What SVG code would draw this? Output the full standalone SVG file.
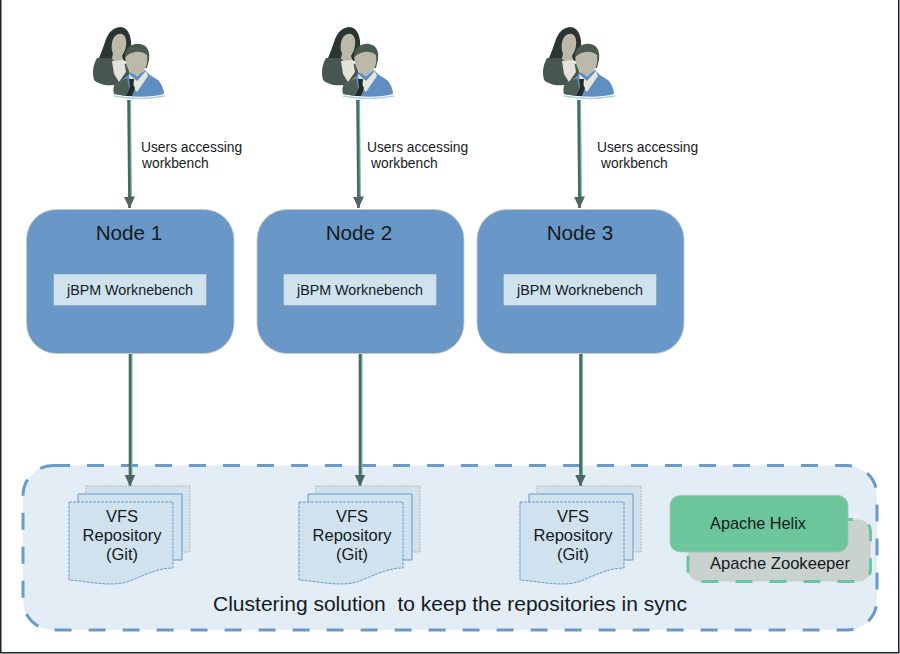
<svg xmlns="http://www.w3.org/2000/svg" xmlns:xlink="http://www.w3.org/1999/xlink" width="900" height="654" viewBox="0 0 900 654">
<style>
text{font-family:"Liberation Sans",Arial,sans-serif;fill:#151a1c}
.nd{fill:#6998c8;stroke:#c8ccc4;stroke-width:.8}
.nt{font-size:20.700px;text-anchor:middle}
.wb{fill:#cfe2ee;stroke:#d5dcd8;stroke-width:.6}
.wt{font-size:14.300px;text-anchor:middle}
.ul{font-size:13.800px}
.doc{fill:#cfe2ee}
.dt{font-size:16.500px;text-anchor:middle}
.c1{stroke:#5fc298;stroke-width:3;fill:none}
.c2{stroke:#4d6564;stroke-width:2.6;fill:none}
</style>
<defs>
<marker id="ah" markerUnits="userSpaceOnUse" markerWidth="13" markerHeight="13" refX="11.500" refY="6" orient="auto"><path d="M0 .5L12 6L0 11.500z" fill="#4d6564"/></marker>
<g id="users">
<path d="M105 42C108 32 114 27 121 27C129 28 132 38 131 48L129 60L114 64L99 58C101 53 103 48 105 42Z" fill="#2b3532"/>
<path d="M112 43C113 36 118 33 122 34C127 36 127 44 125 50L122 56L124 62L111 62L113 54C112 51 111 47 112 43Z" fill="#bdb9aa"/>
<path d="M97 58L111 58L116 62L127 64L130 74L116 86L113 85C106 86 98 84 94 80C92 72 93 65 97 58Z" fill="#47564f"/>
<path d="M112 61L124 60L126 72L119 82L114 74Z" fill="#e3e2db"/>
<path d="M125 58C124 48 132 43 140 44C148 45 150 52 149 60L147 68L127 66Z" fill="#4b5a4f"/>
<path d="M125.500 57C130 52 140 49 147 55C148 64 146 72 137 75.500C130 75 125 66 125.500 57Z" fill="#bcb9aa"/>
<path d="M116 84L126 78L130 72L137 76L145 70L150 75L158 80C162 84 164 90 164 94C150 98 128 97 114 94Z" fill="#5f8fc0"/>
<path d="M115 84L127 78L129 88L126 96L114 94C113 91 113 87 115 84Z" fill="#4c5d55"/>
<path d="M129 74L137 81L146 71L148 76L137 92L130 84Z" fill="#e5e5de"/>
<path d="M129 79L134 79L133.500 85L135 88L132 96L126 96L130 87Z" fill="#232b2a"/>
<path d="M114 96C130 99 150 99 165 96" stroke="#b5cfdc" stroke-width="1.400" fill="none"/>
</g>
<g id="doc">
<path d="M17 0H121V66H17Z" class="doc" stroke="#c2b9a4" stroke-width="1" stroke-dasharray="2 1"/>
<path d="M9 8H113V74H9Z" class="doc" stroke="#6a9ac9" stroke-width="1"/>
<path d="M0 16H104V82C88 82 74 90 58 96C40 101 18 95 0 94Z" class="doc" stroke="#6a9ac9" stroke-width="1" stroke-dasharray="3 1"/>
</g>
</defs>
<rect width="900" height="654" fill="#fff"/>
<path d="M.75 0V652.75H898.75V0" fill="none" stroke="#1f2326" stroke-width="1.500"/>
<g id="cluster">
<rect x="23" y="465.500" width="854" height="164.500" rx="30" fill="#e3edf6" stroke="#6a9ac9" stroke-width="3" stroke-dasharray="17 17"/>
<text x="450" y="611" font-size="21" text-anchor="middle" style="white-space:pre">Clustering solution  to keep the repositories in sync</text>
</g>
<g id="users-1"><use xlink:href="#users" href="#users"/></g>
<g id="users-2"><use xlink:href="#users" href="#users" x="229"/></g>
<g id="users-3"><use xlink:href="#users" href="#users" x="450"/></g>
<g id="connectors">
<g class="c1"><path d="M129.500 100L130.500 203"/><path d="M358.500 100L359.500 203"/><path d="M579.500 100L580.500 203"/><path d="M131 354V475"/><path d="M361 354V475"/><path d="M581.500 354V475"/></g>
<g class="c2"><path d="M128.500 100L129.500 208" marker-end="url(#ah)"/><path d="M357.500 100L358.500 208" marker-end="url(#ah)"/><path d="M578.500 100L579.500 208" marker-end="url(#ah)"/><path d="M130 354V486" marker-end="url(#ah)"/><path d="M360 354V486" marker-end="url(#ah)"/><path d="M580.500 354V486" marker-end="url(#ah)"/></g>
</g>
<text class="ul" x="141" y="151.500">Users accessing</text><text class="ul" x="142" y="167.500">workbench</text>
<text class="ul" x="367" y="151.500">Users accessing</text><text class="ul" x="371" y="167.500">workbench</text>
<text class="ul" x="597" y="151.500">Users accessing</text><text class="ul" x="601" y="167.500">workbench</text>
<g id="node-1"><rect class="nd" x="26.500" y="209.500" width="207.500" height="144" rx="30"/><text class="nt" x="129" y="240">Node 1</text><rect class="wb" x="54" y="274.500" width="152" height="30.500"/><text class="wt" x="130" y="295">jBPM Worknebench</text></g>
<g id="node-2"><rect class="nd" x="257" y="209.500" width="207" height="144" rx="30"/><text class="nt" x="359" y="240">Node 2</text><rect class="wb" x="284" y="274.500" width="152" height="30.500"/><text class="wt" x="360" y="295">jBPM Worknebench</text></g>
<g id="node-3"><rect class="nd" x="477" y="209.500" width="207" height="144" rx="30"/><text class="nt" x="580" y="240">Node 3</text><rect class="wb" x="504" y="274.500" width="152" height="30.500"/><text class="wt" x="580" y="295">jBPM Worknebench</text></g>
<g id="repo-1"><use xlink:href="#doc" href="#doc" x="69" y="486"/><text class="dt" x="122" y="522">VFS</text><text class="dt" x="122" y="541">Repository</text><text class="dt" x="122" y="560">(Git)</text></g>
<g id="repo-2"><use xlink:href="#doc" href="#doc" x="299" y="486"/><text class="dt" x="352" y="522">VFS</text><text class="dt" x="352" y="541">Repository</text><text class="dt" x="352" y="560">(Git)</text></g>
<g id="repo-3"><use xlink:href="#doc" href="#doc" x="520" y="486"/><text class="dt" x="573" y="522">VFS</text><text class="dt" x="573" y="541">Repository</text><text class="dt" x="573" y="560">(Git)</text></g>
<g id="zookeeper"><rect x="688" y="519.500" width="182.500" height="62" rx="12" fill="#c9d2cf" stroke="#6cc69c" stroke-width="3" stroke-dasharray="17 17"/><text x="780" y="568.500" font-size="16.600" text-anchor="middle">Apache Zookeeper</text></g>
<g id="helix"><rect x="670" y="495.500" width="178" height="56.500" rx="10" fill="#6cc69c" stroke="#b3bdb0" stroke-width=".8"/><text x="758" y="528.500" font-size="16.300" text-anchor="middle">Apache Helix</text></g>
</svg>
